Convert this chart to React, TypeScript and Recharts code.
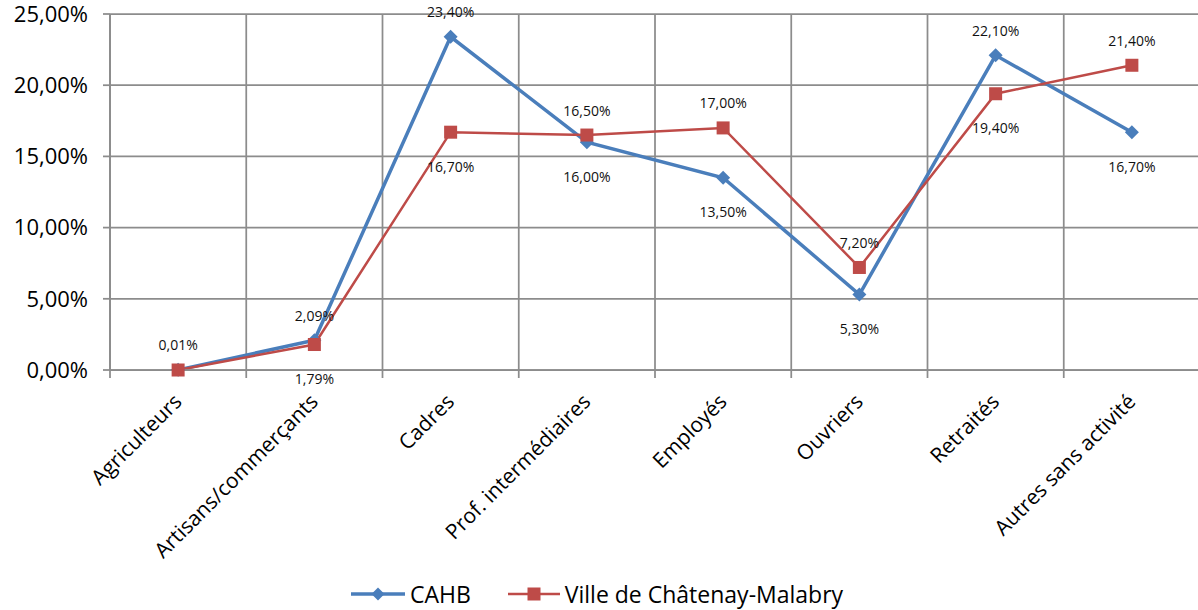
import React from 'react';
import { LineChart, Line, XAxis, YAxis, CartesianGrid, LabelList, Legend } from 'recharts';

const categories = [
  'Agriculteurs',
  'Artisans/commerçants',
  'Cadres',
  'Prof. intermédiaires',
  'Employés',
  'Ouvriers',
  'Retraités',
  'Autres sans activité',
];
const cahbValues = [0.01, 2.09, 23.4, 16.0, 13.5, 5.3, 22.1, 16.7];
const villeValues = [0.0, 1.79, 16.7, 16.5, 17.0, 7.2, 19.4, 21.4];
const yTicks = [0, 5, 10, 15, 20, 25];
const seriesNames = ['CAHB', 'Ville de Châtenay-Malabry'];

const data = categories.map((name, i) => ({ name, cahb: cahbValues[i], ville: villeValues[i] }));

const FONT = '"Open Sans", sans-serif';
const BLUE = '#4a7ebb';
const RED = '#be4b48';
const GRID = '#8c8c8c';
const CHART_W = 1200;
const CHART_H = 610;
const Y_AXIS_W = 110;
const PLOT_W = CHART_W - Y_AXIS_W;
const STEP = PLOT_W / categories.length;

const fmt = (v: number) => v.toFixed(2).replace('.', ',') + '%';

const Diamond = (props: any) => {
  const { cx, cy, r = 7, fill = BLUE } = props;
  if (cx == null || cy == null) return null;
  return <polygon points={`${cx},${cy - r} ${cx + r},${cy} ${cx},${cy + r} ${cx - r},${cy}`} fill={fill} />;
};

const Square = (props: any) => {
  const { cx, cy, s = 13, fill = RED } = props;
  if (cx == null || cy == null) return null;
  return <rect x={cx - s / 2} y={cy - s / 2} width={s} height={s} fill={fill} />;
};

const XTick = (props: any) => {
  const { x, y, payload, index } = props;
  const last = index === categories.length - 1;
  return (
    <g>
      <line x1={x - STEP / 2} x2={x - STEP / 2} y1={y} y2={y + 8} stroke={GRID} strokeWidth={1.75} />
      {last && <line x1={x + STEP / 2} x2={x + STEP / 2} y1={y} y2={y + 8} stroke={GRID} strokeWidth={1.75} />}
      <text
        transform={`translate(${x + 5},${y + 33}) rotate(-45)`}
        textAnchor="end"
        fontSize={21}
        fontFamily={FONT}
        fill="#000"
      >
        {payload.value}
      </text>
    </g>
  );
};

const makeLabel = (own: number[], other: number[]) => (props: any) => {
  const { x, y, value, index } = props;
  if (!value) return null;
  const above = own[index] >= other[index];
  const dy = above ? -25 : 34;
  return (
    <text
      key={`lbl-${index}`}
      x={x}
      y={y + dy}
      textAnchor="middle"
      dominantBaseline="central"
      fontSize={14}
      fontFamily={FONT}
      fill="#111"
    >
      {fmt(value)}
    </text>
  );
};

const renderLegend = () => (
  <div
    style={{
      height: 40,
      boxSizing: 'border-box',
      paddingTop: 8,
      display: 'flex',
      justifyContent: 'center',
      alignItems: 'center',
      gap: 37,
      fontFamily: FONT,
      fontSize: 23,
      color: '#000',
      marginLeft: -6,
    }}
  >
    <div style={{ display: 'flex', alignItems: 'center' }}>
      <svg width={54} height={16}>
        <line x1={0} x2={54} y1={8} y2={8} stroke={BLUE} strokeWidth={3.5} />
        <Diamond cx={27} cy={8} r={6.5} fill={BLUE} />
      </svg>
      <span style={{ marginLeft: 5 }}>{seriesNames[0]}</span>
    </div>
    <div style={{ display: 'flex', alignItems: 'center' }}>
      <svg width={52} height={16}>
        <line x1={0} x2={52} y1={8} y2={8} stroke={RED} strokeWidth={2.5} />
        <Square cx={26} cy={8} s={13} fill={RED} />
      </svg>
      <span style={{ marginLeft: 5 }}>{seriesNames[1]}</span>
    </div>
  </div>
);

export default function App() {
  return (
    <div style={{ position: 'absolute', left: 0, top: 0, width: 1198, height: 610, overflow: 'hidden', background: '#fff' }}>
      <LineChart width={CHART_W} height={CHART_H} data={data} margin={{ top: 14, right: 0, bottom: 0, left: 0 }}>
        <CartesianGrid
          stroke={GRID}
          strokeWidth={1.75}
          verticalCoordinatesGenerator={({ offset }: any) =>
            Array.from({ length: categories.length + 1 }, (_, i) => offset.left + (i * offset.width) / categories.length)
          }
        />
        <XAxis
          dataKey="name"
          interval={0}
          height={200}
          padding={{ left: STEP / 2, right: STEP / 2 }}
          tickLine={false}
          tickSize={0}
          tickMargin={0}
          axisLine={{ stroke: GRID, strokeWidth: 1.75 }}
          tick={<XTick />}
        />
        <YAxis
          width={Y_AXIS_W}
          domain={[0, 25]}
          ticks={yTicks}
          interval={0}
          tickFormatter={fmt}
          tickSize={7}
          tickMargin={15}
          tickLine={{ stroke: GRID, strokeWidth: 1.75 }}
          axisLine={{ stroke: GRID, strokeWidth: 1.75 }}
          tick={{ fontSize: 22, fontFamily: FONT, fill: '#000' }}
        />
        <Legend verticalAlign="bottom" content={renderLegend} />
        <Line
          dataKey="cahb"
          name={seriesNames[0]}
          stroke={BLUE}
          strokeWidth={3.5}
          dot={(p: any) => <Diamond key={`d-${p.index}`} cx={p.cx} cy={p.cy} r={7} fill={BLUE} />}
          activeDot={false}
          isAnimationActive={false}
        >
          <LabelList dataKey="cahb" content={makeLabel(cahbValues, villeValues)} />
        </Line>
        <Line
          dataKey="ville"
          name={seriesNames[1]}
          stroke={RED}
          strokeWidth={2.5}
          dot={(p: any) => <Square key={`s-${p.index}`} cx={p.cx} cy={p.cy} s={13} fill={RED} />}
          activeDot={false}
          isAnimationActive={false}
        >
          <LabelList dataKey="ville" content={makeLabel(villeValues, cahbValues)} />
        </Line>
      </LineChart>
    </div>
  );
}
